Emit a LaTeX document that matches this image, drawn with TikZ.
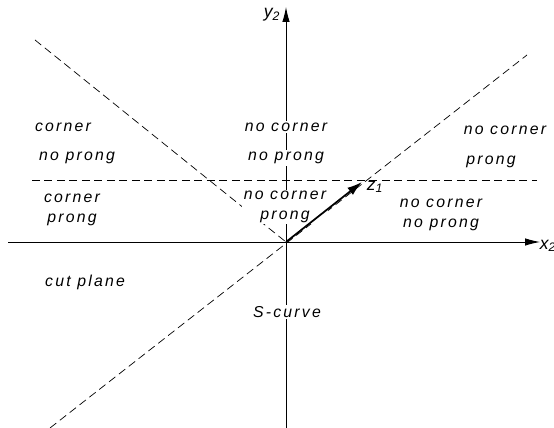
\documentclass[tikz,border=0pt]{standalone}
\usepackage{fontspec}
\setsansfont{Liberation Sans}[LetterSpace=14]
\usetikzlibrary{arrows.meta,positioning}
\tikzset{
  region/.style={font=\sffamily\itshape\small,inner sep=1pt,align=center},
  onaxis/.style={region,fill=white},
  axis/.style={-{Latex[length=3mm,width=1.5mm]},line width=0.5pt},
  vec/.style={-{Latex[length=3mm,width=1.8mm]},line width=1pt},
  boundary/.style={dash pattern=on 1.6mm off 0.9mm,line width=0.4pt},
  axislabel/.style={font=\sffamily\itshape,inner sep=1pt}
}
\begin{document}
\begin{tikzpicture}[x=0.02cm,y=0.02cm]
  \useasboundingbox (0,0) rectangle (554,428);
  \coordinate (O) at (286,186);
  \coordinate (xs) at (8,186);
  \coordinate (xe) at (540,186);
  \coordinate (ys) at (286,0);
  \coordinate (ye) at (286,421);
  % boundaries
  \coordinate (hl) at (32,248);
  \coordinate (hr) at (537,248);
  \coordinate (al) at (50,0);
  \coordinate (ar) at (527,373);
  \coordinate (bl) at (35,388);
  \draw[boundary] (hl) -- (hr);
  \draw[boundary] (al) -- (ar);
  \draw[boundary] (bl) -- (O);
  % axes
  \draw[axis] (xs) -- (xe);
  \draw[axis] (ys) -- (ye);
  \node[axislabel] (x2) at (548,182) {x\textsubscript{2}};
  \node[axislabel] (y2) at (272,413) {y\textsubscript{2}};
  % regions
  \node[region] (c1) at (63,301) {corner};
  \node[region] (c1b) at (77,270) {no prong};
  \node[onaxis] (c2) at (286,301) {no corner};
  \node[onaxis] (c2b) at (286,270) {no prong};
  \node[region] (c3) at (505,298) {no corner};
  \node[region] (c3b) at (491,266) {prong};
  \node[region] (c4) at (72,218) {corner\\prong};
  \node[onaxis] (c5) at (285,221) {no corner\\prong};
  \node[region] (c6) at (441,213) {no corner\\no prong};
  \node[region] (c7) at (85,146) {cut plane};
  \node[onaxis] (c8) at (287,116) {S-curve};
  % vector
  \coordinate (z) at (362,246);
  \draw[vec] (O) -- (z);
  \node[axislabel] (z1) at (375,241) {z\textsubscript{1}};
\end{tikzpicture}
\end{document}
